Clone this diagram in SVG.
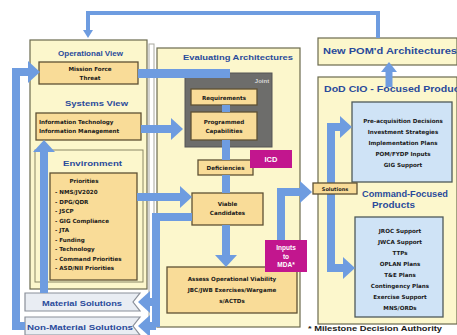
<svg xmlns="http://www.w3.org/2000/svg" width="457" height="335" viewBox="0 0 457 335">
<style>
text{font-family:"Liberation Sans",Arial,sans-serif;font-weight:bold}
.h{fill:#2a4b9b;font-size:8px}
.t{fill:#1a1a1a;font-size:5.6px;font-family:"DejaVu Sans","Liberation Sans",sans-serif}
.w{fill:#ffffff;font-size:6.5px}
.panel{fill:#fcf7cc;stroke:#6b6a4e;stroke-width:1.2}
.box{fill:#f9dc98;stroke:#5e5134;stroke-width:1.3}
.bbox{fill:#cfe3f6;stroke:#4f5a5a;stroke-width:1.3}
.mag{fill:#c2168e}
.sol{fill:#e9edf3;stroke:#8a8f99;stroke-width:1.2}
.c{fill:none;stroke:#6e9ce0;stroke-linejoin:miter}
</style>
<defs>
<marker id="big" markerUnits="userSpaceOnUse" viewBox="0 -11 12 22" markerWidth="12" markerHeight="22" refX="0" refY="0" orient="auto"><path d="M0,-11 L12,0 L0,11 z" fill="#6e9ce0"/></marker>
<marker id="med" markerUnits="userSpaceOnUse" viewBox="0 -8 10 16" markerWidth="10" markerHeight="16" refX="0" refY="0" orient="auto"><path d="M0,-8 L10,0 L0,8 z" fill="#6e9ce0"/></marker>
<marker id="sm" markerUnits="userSpaceOnUse" viewBox="0 -5 8 10" markerWidth="8" markerHeight="10" refX="0" refY="0" orient="auto"><path d="M0,-5 L8,0 L0,5 z" fill="#6e9ce0"/></marker>
</defs>
<rect width="457" height="335" fill="#ffffff"/>

<g id="left-panel">
<rect class="panel" x="30" y="40" width="117" height="249"/>
<rect fill="none" stroke="#8a8866" stroke-width="1" x="35" y="150" width="108" height="132"/>
<rect fill="none" stroke="#a9a9a0" stroke-width="1" x="149" y="44" width="5" height="285"/>
<text class="h" x="58" y="56" textLength="65" lengthAdjust="spacingAndGlyphs">Operational View</text>
<text class="h" x="65" y="106" textLength="63" lengthAdjust="spacingAndGlyphs">Systems View</text>
<text class="h" x="63" y="166" textLength="59" lengthAdjust="spacingAndGlyphs">Environment</text>
</g>

<g id="mid-panel">
<rect class="panel" x="157" y="48" width="143" height="279"/>
<text class="h" x="183" y="60" textLength="110" lengthAdjust="spacingAndGlyphs">Evaluating Architectures</text>
</g>

<g id="right-panel">
<rect class="panel" x="318" y="77" width="139" height="247"/>
<text class="h" x="324" y="92" style="font-size:8.5px" textLength="145" lengthAdjust="spacingAndGlyphs">DoD CIO - Focused Products</text>
<text class="h" x="362" y="197" style="font-size:8.5px" textLength="86" lengthAdjust="spacingAndGlyphs">Command-Focused</text>
<text class="h" x="372" y="208" style="font-size:8.5px" textLength="43" lengthAdjust="spacingAndGlyphs">Products</text>
</g>

<g id="new-pom">
<rect class="panel" x="318" y="38" width="139" height="27"/>
<text class="h" x="323" y="54" style="font-size:9px" textLength="134" lengthAdjust="spacingAndGlyphs">New POM'd Architectures</text>
</g>

<g id="mission-force-threat">
<rect class="box" x="39" y="62" width="99" height="22"/>
<text class="t" x="90" y="71" text-anchor="middle">Mission Force</text>
<text class="t" x="90" y="80" text-anchor="middle">Threat</text>
</g>

<g id="it-im">
<rect class="box" x="36" y="113" width="105" height="27"/>
<text class="t" x="39" y="124">Information Technology</text>
<text class="t" x="39" y="133">Information Management</text>
</g>

<g id="priorities">
<rect class="box" x="50" y="173" width="87" height="107"/>
<text class="t" x="84" y="183" text-anchor="middle">Priorities</text>
<g style="font-size:5.3px">
<text class="t" x="55" y="194">- NMS/JV2020</text>
<text class="t" x="55" y="203.5">- DPG/QDR</text>
<text class="t" x="55" y="213">- JSCP</text>
<text class="t" x="55" y="222.5">- GIG Compliance</text>
<text class="t" x="55" y="232">- JTA</text>
<text class="t" x="55" y="241.5">- Funding</text>
<text class="t" x="55" y="251">- Technology</text>
<text class="t" x="55" y="260.5">- Command Priorities</text>
<text class="t" x="55" y="270">- ASD/NII Priorities</text>
</g>
</g>

<g id="material-solutions">
<path class="sol" d="M25,293 H140 L133,302 L140,311 H25 Z"/>
<text class="h" x="42" y="305.5" textLength="80" lengthAdjust="spacingAndGlyphs">Material Solutions</text>
</g>

<g id="non-material-solutions">
<path class="sol" d="M25,317 H140 L133,326 L140,335 H25 Z"/>
<text class="h" x="27" y="329.5" textLength="106" lengthAdjust="spacingAndGlyphs">Non-Material Solutions</text>
</g>

<g id="joint">
<rect fill="#6d6d6b" stroke="#555" stroke-width="1" x="185" y="73" width="87" height="74"/>
<text x="262" y="83" text-anchor="middle" style="fill:#d8d8d8;font-size:6px">Joint</text>
</g>

<g id="requirements">
<rect class="box" x="191" y="89" width="66" height="16"/>
<text class="t" x="224" y="99.5" text-anchor="middle">Requirements</text>
</g>

<g id="programmed-capabilities">
<rect class="box" x="191" y="112" width="66" height="28"/>
<text class="t" x="224" y="124" text-anchor="middle">Programmed</text>
<text class="t" x="224" y="133" text-anchor="middle">Capabilities</text>
</g>

<g id="deficiencies">
<rect class="box" x="198" y="160" width="55" height="15"/>
<text class="t" x="225.5" y="170" text-anchor="middle">Deficiencies</text>
</g>

<g id="icd">
<rect class="mag" x="250" y="150" width="42" height="18"/>
<text class="w" x="271" y="162" text-anchor="middle" style="font-size:7.5px">ICD</text>
</g>

<g id="viable-candidates">
<rect class="box" x="192" y="193" width="71" height="32"/>
<text class="t" x="227.5" y="206" text-anchor="middle">Viable</text>
<text class="t" x="227.5" y="215" text-anchor="middle">Candidates</text>
</g>

<g id="assess">
<rect class="box" x="167" y="267" width="130" height="46"/>
<text class="t" x="232" y="281" text-anchor="middle">Assess Operational Viability</text>
<text class="t" x="232" y="292" text-anchor="middle">JBC/JWB Exercises/Wargame</text>
<text class="t" x="232" y="303" text-anchor="middle">s/ACTDs</text>
</g>

<g id="inputs-to-mda">
<rect class="mag" x="265" y="240" width="42" height="32"/>
<text class="w" x="286" y="250" text-anchor="middle" style="font-size:6.5px">Inputs</text>
<text class="w" x="286" y="258.5" text-anchor="middle" style="font-size:6.5px">to</text>
<text class="w" x="286" y="267" text-anchor="middle" style="font-size:6.5px">MDA*</text>
</g>

<g id="dod-products">
<rect class="bbox" x="352" y="102" width="100" height="80"/>
<text class="t" x="403" y="123" text-anchor="middle">Pre-acquisition Decisions</text>
<text class="t" x="403" y="134" text-anchor="middle">Investment Strategies</text>
<text class="t" x="403" y="145" text-anchor="middle">Implementation Plans</text>
<text class="t" x="403" y="156" text-anchor="middle">POM/FYDP Inputs</text>
<text class="t" x="403" y="167" text-anchor="middle">GIG Support</text>
</g>

<g id="command-products">
<rect class="bbox" x="355" y="217" width="88" height="100"/>
<text class="t" x="400" y="233" text-anchor="middle">JROC Support</text>
<text class="t" x="400" y="244" text-anchor="middle">JWCA Support</text>
<text class="t" x="400" y="255" text-anchor="middle">TTPs</text>
<text class="t" x="400" y="266" text-anchor="middle">OPLAN Plans</text>
<text class="t" x="400" y="277" text-anchor="middle">T&amp;E Plans</text>
<text class="t" x="400" y="288" text-anchor="middle">Contingency Plans</text>
<text class="t" x="400" y="299" text-anchor="middle">Exercise Support</text>
<text class="t" x="400" y="310" text-anchor="middle">MNS/ORDs</text>
</g>

<g id="connectors">
<path class="c" stroke-width="4" d="M378,38 V13 H88 V30" marker-end="url(#sm)"/>
<path class="c" stroke-width="9" d="M138,73.5 H230"/>
<path class="c" stroke-width="8" d="M25,326 H16 V72 H28" marker-end="url(#big)"/>
<path class="c" stroke-width="8" d="M44,293 V152" marker-end="url(#big)"/>
<path class="c" stroke-width="8" d="M141,129 H171" marker-end="url(#big)"/>
<path class="c" stroke-width="8" d="M137,197 H180" marker-end="url(#big)"/>
<path class="c" stroke-width="8" d="M192,217 H156 V327"/>
<path class="c" stroke-width="8" d="M156,302 H150" marker-end="url(#big)"/>
<path class="c" stroke-width="8" d="M156,326 H150" marker-end="url(#big)"/>
<path class="c" stroke-width="8" d="M226,105 V112"/>
<path class="c" stroke-width="8" d="M226,140 V160"/>
<path class="c" stroke-width="8" d="M226,175 V193"/>
<path class="c" stroke-width="8" d="M226,225 V255" marker-end="url(#big)"/>
<path class="c" stroke-width="8" d="M281,240 V192 H300" marker-end="url(#big)"/>
<path class="c" stroke-width="8" d="M331,268 V127 H340" marker-end="url(#big)"/>
<path class="c" stroke-width="8" d="M331,200 V268 H343" marker-end="url(#big)"/>
<path class="c" stroke-width="7" d="M389,87 V72" marker-end="url(#med)"/>
</g>

<g id="solutions">
<rect class="box" x="313" y="183" width="44" height="11"/>
<text class="t" x="335" y="190.8" text-anchor="middle" style="font-size:5px">Solutions</text>
</g>

<text x="308" y="331" style="font-size:7.5px;fill:#1a1a1a" textLength="134" lengthAdjust="spacingAndGlyphs">* Milestone Decision Authority</text>
</svg>
